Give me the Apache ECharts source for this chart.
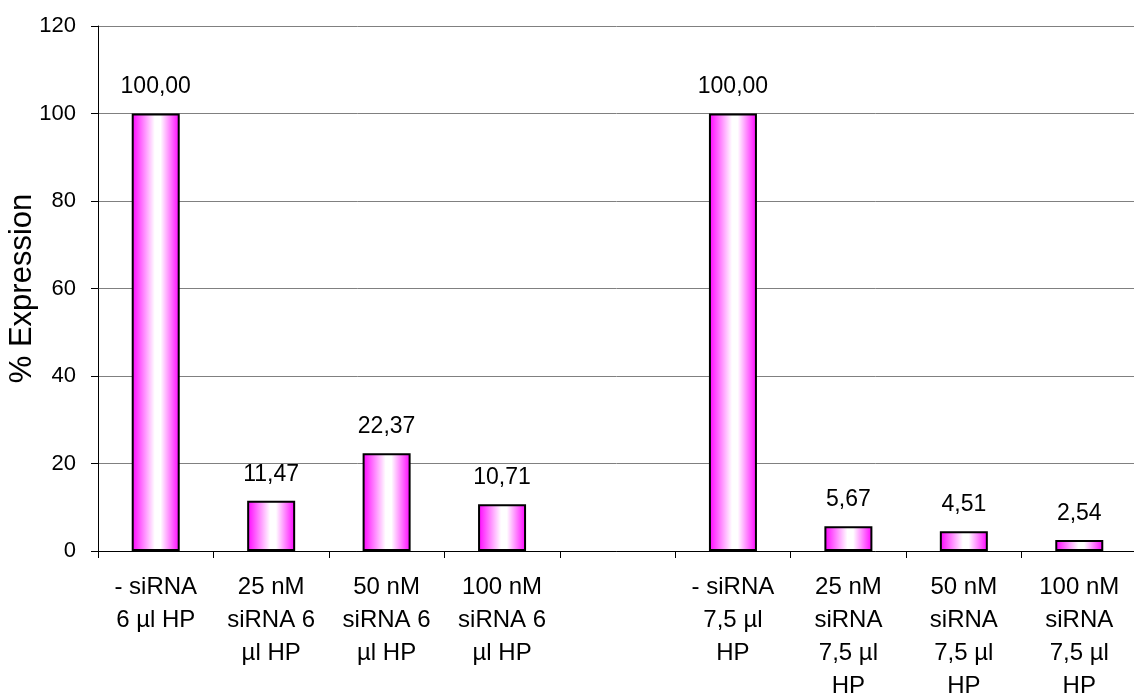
<!DOCTYPE html>
<html>
<head>
<meta charset="utf-8">
<script src="https://cdn.jsdelivr.net/npm/echarts@6/dist/echarts.min.js"></script>
<style>
  html, body { margin: 0; padding: 0; background: #fff; }
  #chart { width: 1134px; height: 700px; }
</style>
</head>
<body>
<div id="chart"></div>
<script>
// Conditions (an empty slot separates the two HP volumes)
var categories = [
  '- siRNA\n6 µl HP',
  '25 nM\nsiRNA 6\nµl HP',
  '50 nM\nsiRNA 6\nµl HP',
  '100 nM\nsiRNA 6\nµl HP',
  '',
  '- siRNA\n7,5 µl\nHP',
  '25 nM\nsiRNA\n7,5 µl\nHP',
  '50 nM\nsiRNA\n7,5 µl\nHP',
  '100 nM\nsiRNA\n7,5 µl\nHP'
];
var expression = [100.00, 11.47, 22.37, 10.71, null, 100.00, 5.67, 4.51, 2.54];
var yTicks = { min: 0, max: 120, interval: 20 };

var FONT = '"Liberation Sans", Arial, sans-serif';

var chart = echarts.init(document.getElementById('chart'));
chart.setOption({
  animation: false,
  backgroundColor: '#ffffff',
  // plot area runs slightly past the right edge of the canvas
  grid: {
    left: 98, top: 26, width: 1039, height: 525,
    containLabel: false,
    outerBoundsMode: 'none'
  },
  xAxis: {
    type: 'category',
    data: categories,
    boundaryGap: true,
    axisLine: { lineStyle: { color: '#000', width: 1 } },
    axisTick: { show: true, length: 7, lineStyle: { color: '#000' } },
    axisLabel: {
      interval: 0,
      margin: 20,
      color: '#000',
      fontFamily: FONT,
      fontSize: 24,
      lineHeight: 33
    }
  },
  yAxis: {
    type: 'value',
    min: yTicks.min,
    max: yTicks.max,
    interval: yTicks.interval,
    name: '% Expression',
    nameLocation: 'middle',
    nameGap: 60,
    nameMoveOverlap: false,
    nameTextStyle: { color: '#000', fontFamily: FONT, fontSize: 31 },
    axisLine: { show: true, lineStyle: { color: '#000', width: 1 } },
    axisTick: { show: true, length: 7, lineStyle: { color: '#000' } },
    axisLabel: { color: '#000', fontFamily: FONT, fontSize: 22, margin: 22 },
    splitLine: { show: true, lineStyle: { color: '#808080', width: 1 } }
  },
  series: [{
    type: 'bar',
    data: expression,
    barWidth: 48,
    itemStyle: {
      borderColor: '#000',
      borderWidth: 2,
      color: new echarts.graphic.LinearGradient(0, 0, 1, 0, [
        { offset: 0, color: '#ff00ff' },
        { offset: 0.48, color: '#ffffff' },
        { offset: 0.6, color: '#ffffff' },
        { offset: 1, color: '#ff00ff' }
      ])
    },
    label: {
      show: true,
      position: 'top',
      distance: 15,
      color: '#000',
      fontFamily: FONT,
      fontSize: 23,
      formatter: function (p) {
        return p.value == null ? '' : p.value.toFixed(2).replace('.', ',');
      }
    }
  }]
});
</script>
</body>
</html>
